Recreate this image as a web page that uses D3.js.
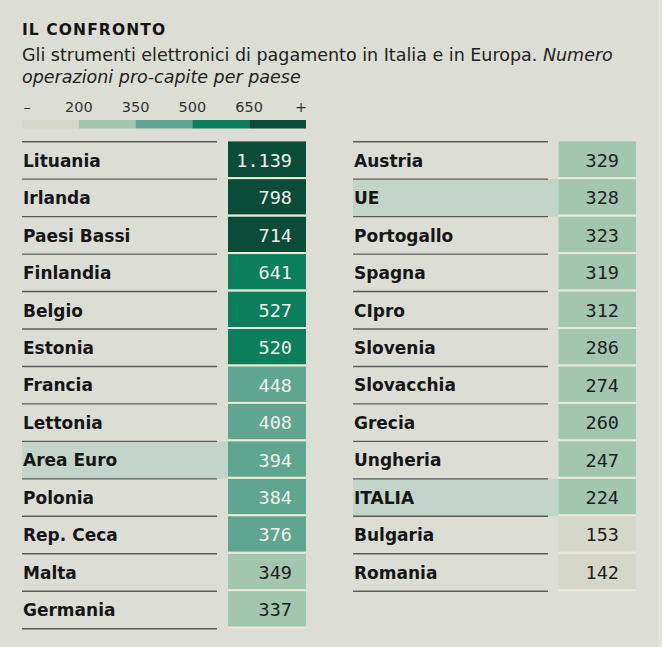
<!DOCTYPE html>
<html>
<head>
<meta charset="utf-8">
<script src="https://cdn.jsdelivr.net/npm/d3@7"></script>
<style>
  html, body { margin: 0; padding: 0; background: #dcded6; }
  svg { display: block; }
</style>
</head>
<body>
<script>
// ---- data ----
const leftNames  = ["Lituania","Irlanda","Paesi Bassi","Finlandia","Belgio","Estonia","Francia","Lettonia","Area Euro","Polonia","Rep. Ceca","Malta","Germania"];
const leftValues = [1139,798,714,641,527,520,448,408,394,384,376,349,337];
const rightNames  = ["Austria","UE","Portogallo","Spagna","CIpro","Slovenia","Slovacchia","Grecia","Ungheria","ITALIA","Bulgaria","Romania"];
const rightValues = [329,328,323,319,312,286,274,260,247,224,153,142];
const highlighted = ["Area Euro","UE","ITALIA"];
const thresholds  = [200,350,500,650];
const legendLabels = ["–","200","350","500","650","+"];
const palette = ["#d5d8c8","#a3c6ae","#5fa58f","#0b7e5b","#0a4c37"];

const W = 662, H = 647;
const svg = d3.select("body").append("svg").attr("width", W).attr("height", H);
svg.append("rect").attr("width", W).attr("height", H).attr("fill", "#dcded6");
svg.append("rect").attr("x", 658).attr("width", 4).attr("height", H).attr("fill", "#e7e4d7");

const color = d3.scaleThreshold().domain(thresholds).range(palette);
const itFmt = d3.formatLocale({decimal: ",", thousands: ".", grouping: [3], currency: ["€",""]}).format(",d");

// ---- title ----
svg.append("text").attr("x", 22).attr("y", 35)
  .attr("font-family", "DejaVu Sans").attr("font-weight", 700).attr("font-size", 15.5)
  .attr("letter-spacing", 1.1)
  .attr("fill", "#141414").text("IL CONFRONTO");
const sub1 = svg.append("text").attr("x", 22).attr("y", 60.5)
  .attr("font-family", "DejaVu Sans").attr("font-size", 17.5).attr("fill", "#222");
sub1.append("tspan").text("Gli strumenti elettronici di pagamento in Italia e in Europa. ");
sub1.append("tspan").attr("font-style", "italic").text("Numero");
svg.append("text").attr("x", 22).attr("y", 82.5)
  .attr("font-family", "DejaVu Sans").attr("font-size", 17.5).attr("font-style", "italic")
  .attr("fill", "#222").text("operazioni pro-capite per paese");

// ---- legend ----
const lx = d3.scaleLinear().domain([0, palette.length]).range([22, 306]);
svg.append("g").selectAll("rect").data(palette).join("rect")
  .attr("x", (d, i) => lx(i)).attr("y", 120)
  .attr("width", (d, i) => lx(i + 1) - lx(i)).attr("height", 8.5)
  .attr("fill", d => d);
const labelPos = legendLabels.map((d, i) => i === 0 ? lx(0) + 5 : (i === legendLabels.length - 1 ? lx(palette.length) - 5 : lx(i)));
svg.append("g").selectAll("text").data(legendLabels).join("text")
  .attr("x", (d, i) => labelPos[i]).attr("y", 112)
  .attr("text-anchor", "middle")
  .attr("font-family", "DejaVu Sans").attr("font-size", 14.5).attr("fill", "#333")
  .text(d => d);

// ---- tables ----
const rowTop = 141.7, rowH = 37.46, nRows = leftNames.length;
const y = d3.scaleBand().domain(d3.range(nRows)).range([rowTop, rowTop + rowH * nRows]).paddingInner(0).paddingOuter(0);

function drawColumn(names, values, cfg) {
  const g = svg.append("g");
  const rows = names.map((n, i) => ({name: n, value: values[i], i}));
  // highlight background
  g.selectAll("rect.hl").data(rows.filter(r => highlighted.includes(r.name))).join("rect")
    .attr("class", "hl")
    .attr("x", cfg.lineX0).attr("y", r => y(r.i))
    .attr("width", cfg.cellX - cfg.lineX0).attr("height", y.bandwidth())
    .attr("fill", "#c3d5cb");
  // value cells
  g.selectAll("rect.cell").data(rows).join("rect")
    .attr("class", "cell")
    .attr("x", cfg.cellX).attr("y", r => y(r.i) - 0.3)
    .attr("width", cfg.cellW).attr("height", y.bandwidth() - 1.7)
    .attr("fill", r => color(r.value));
  // cream separators under each cell
  g.selectAll("rect.sep").data(rows).join("rect")
    .attr("class", "sep")
    .attr("x", cfg.cellX).attr("y", r => y(r.i) + y.bandwidth() - 2)
    .attr("width", cfg.cellW).attr("height", 2)
    .attr("fill", "#ebe8da");
  // rule lines
  g.selectAll("line").data(d3.range(rows.length + 1)).join("line")
    .attr("x1", cfg.lineX0).attr("x2", cfg.lineX1)
    .attr("y1", i => i < rows.length ? y(i) : y(rows.length - 1) + y.bandwidth())
    .attr("y2", i => i < rows.length ? y(i) : y(rows.length - 1) + y.bandwidth())
    .attr("stroke", "#5b5c58").attr("stroke-width", 1.4);
  // labels
  g.selectAll("text.lab").data(rows).join("text")
    .attr("class", "lab")
    .attr("x", cfg.lineX0 + 1).attr("y", r => y(r.i) + y.bandwidth() / 2 + 6.3)
    .attr("font-family", "DejaVu Sans").attr("font-weight", 700).attr("font-size", 17)
    .attr("fill", "#161616")
    .text(r => r.name);
  // values
  g.selectAll("text.val").data(rows).join("text")
    .attr("class", "val")
    .attr("x", cfg.cellX + cfg.cellW - cfg.valPad).attr("y", r => y(r.i) + y.bandwidth() / 2 + 6.4)
    .attr("text-anchor", "end")
    .attr("font-family", "DejaVu Sans Mono").attr("font-size", 18.5)
    .attr("fill", r => r.value >= 350 ? "#eef1ec" : "#1e1e1e")
    .text(r => itFmt(r.value));
}

drawColumn(leftNames, leftValues, {lineX0: 22, lineX1: 217, cellX: 228, cellW: 78, valPad: 14});
drawColumn(rightNames, rightValues, {lineX0: 353, lineX1: 548, cellX: 558.5, cellW: 77.5, valPad: 17});
</script>
</body>
</html>
